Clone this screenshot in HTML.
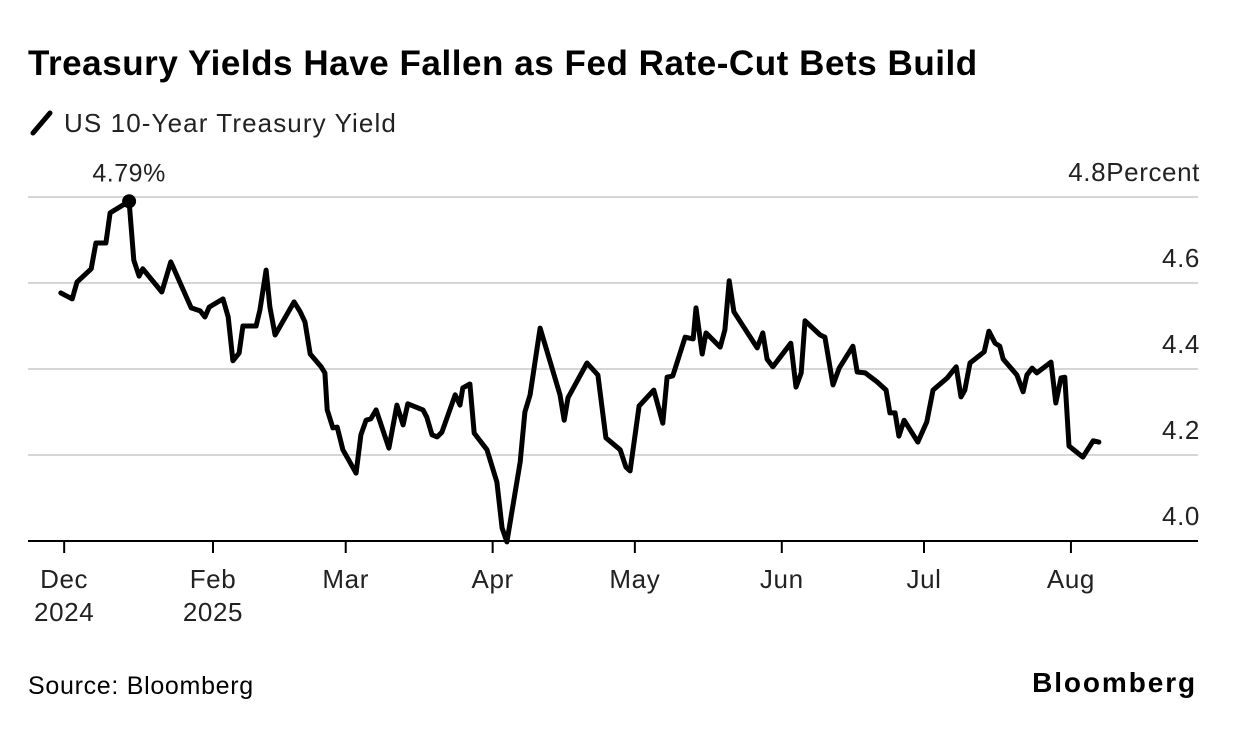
<!DOCTYPE html>
<html><head><meta charset="utf-8"><style>
body{margin:0;background:#fff;width:1236px;height:726px;overflow:hidden;font-family:"Liberation Sans",sans-serif;}
svg text{font-family:"Liberation Sans",sans-serif;}
</style></head><body>
<svg id="chart" width="1236" height="726">
<text x="28" y="75" font-size="35" font-weight="bold" fill="#000" letter-spacing="0.55">Treasury Yields Have Fallen as Fed Rate-Cut Bets Build</text>
<g>
<line x1="33" y1="133" x2="50" y2="113" stroke="#000" stroke-width="5" stroke-linecap="round"/>
<text x="64" y="132" font-size="26" fill="#222" letter-spacing="1.1">US 10-Year Treasury Yield</text>
</g>
<g id="grid"></g>
<g id="xaxis"></g>
<path id="line" fill="none" stroke="#000" stroke-width="5" stroke-linejoin="round" stroke-linecap="round"/>
<g id="ann"></g>
<text x="28" y="694" font-size="25" fill="#000" letter-spacing="0.7">Source: Bloomberg</text>
<text x="1197" y="692" font-size="28" font-weight="bold" text-anchor="end" fill="#000" letter-spacing="1.9">Bloomberg</text>
</svg>
<script>
const days=[-32.1,-29.7,-28.7,-25.7,-24.7,-22.6,-21.7,-17.7,-16.7,-15.6,-14.8,-10.8,-8.9,-4.6,-2.7,-1.7,-0.8,2.1,3.2,4.2,5.5,6.3,9.1,9.9,11.2,12.0,13.1,17.1,18.4,19.4,20.5,22.8,23.6,24.1,25.3,26.2,27.4,30.2,31.2,32.3,33.3,34.4,37.1,38.8,40.1,41.1,44.3,45.1,46.2,47.3,48.3,51.1,52.1,52.7,54.2,55.1,57.8,59.9,61.0,62.0,64.8,65.8,66.9,69.0,73.2,74.1,74.9,78.9,81.2,82.9,85.9,87.1,88.0,89.9,93.0,94.9,95.8,97.0,99.6,101.3,101.9,103.2,104.0,107.0,108.0,108.9,109.9,114.8,116.0,116.9,118.1,121.9,123.0,124.1,124.9,128.1,129.1,130.8,132.1,135.0,135.9,137.6,140.1,142.0,142.8,143.9,144.7,145.8,148.7,150.6,151.9,154.9,156.8,157.8,158.6,159.7,162.7,163.7,165.0,166.0,166.7,169.6,170.9,171.7,172.8,173.8,176.8,177.8,178.9,179.7,180.6,183.5,185.7,186.9];
const yields=[4.577,4.563,4.602,4.633,4.693,4.693,4.763,4.79,4.653,4.616,4.633,4.579,4.649,4.542,4.535,4.521,4.544,4.563,4.521,4.419,4.437,4.500,4.500,4.537,4.630,4.544,4.479,4.556,4.533,4.509,4.435,4.405,4.391,4.305,4.263,4.265,4.212,4.158,4.247,4.281,4.284,4.305,4.216,4.316,4.270,4.319,4.305,4.288,4.247,4.242,4.253,4.340,4.316,4.356,4.365,4.251,4.212,4.137,4.030,3.998,4.184,4.300,4.340,4.495,4.340,4.281,4.333,4.414,4.386,4.240,4.212,4.172,4.163,4.314,4.351,4.274,4.381,4.384,4.474,4.470,4.542,4.435,4.484,4.451,4.491,4.605,4.533,4.449,4.484,4.423,4.405,4.460,4.358,4.391,4.512,4.479,4.474,4.363,4.402,4.453,4.393,4.391,4.370,4.351,4.298,4.298,4.244,4.281,4.230,4.277,4.351,4.379,4.405,4.335,4.351,4.414,4.440,4.488,4.460,4.453,4.423,4.386,4.347,4.386,4.402,4.391,4.416,4.321,4.379,4.381,4.221,4.195,4.233,4.230];
const yTicks=[4.0,4.2,4.4,4.6,4.8];
const xTickDays=[-31.4,0,28,59,89,120,150,181];
const xTickLabels=[["Dec","2024"],["Feb","2025"],["Mar"],["Apr"],["May"],["Jun"],["Jul"],["Aug"]];
const peakLabel="4.79%";
const X=d=>213+d*4.74;
const Y=v=>197+(4.8-v)*430;
const NS="http://www.w3.org/2000/svg";
function mk(tag,attrs,parent,txt){const e=document.createElementNS(NS,tag);for(const k in attrs)e.setAttribute(k,attrs[k]);if(txt!=null)e.textContent=txt;parent.appendChild(e);return e;}
const grid=document.getElementById('grid');
yTicks.forEach(v=>{
  if(v>4.0){const l=mk('line',{x1:28,x2:1198,y1:Y(v),y2:Y(v),stroke:'#d6d6d6','stroke-width':2},grid);
  
  }
  const t=mk('text',{x:1200,y:Y(v)-16,'font-size':26,'letter-spacing':0.6,'text-anchor':'end',fill:'#222'},grid,v===4.8?'4.8Percent':v.toFixed(1));
  
  
});
const xa=document.getElementById('xaxis');
const ax=mk('line',{x1:28,x2:1198,y1:541,y2:541,stroke:'#000','stroke-width':2},xa);


xTickDays.forEach((d,i)=>{
  const tk=mk('line',{x1:X(d),x2:X(d),y1:541,y2:553,stroke:'#000','stroke-width':2},xa);
  
  
  xTickLabels[i].forEach((s,j)=>{
    const t=mk('text',{x:X(d),y:588+j*33,'font-size':26,'letter-spacing':0.6,'text-anchor':'middle',fill:'#222'},xa,s);
    
    
  });
});
document.getElementById('line').setAttribute('d',days.map((d,i)=>(i?'L':'M')+X(d).toFixed(1)+','+Y(yields[i]).toFixed(1)).join(''));
let mi=0;yields.forEach((v,i)=>{if(v>yields[mi])mi=i;});
const ann=document.getElementById('ann');
const dot=mk('circle',{cx:X(days[mi]),cy:Y(yields[mi]),r:7,fill:'#000'},ann);


const pl=mk('text',{x:X(days[mi]),y:Y(yields[mi])-20,'font-size':25,'letter-spacing':0.5,'text-anchor':'middle',fill:'#222'},ann,peakLabel);


</script>
</body></html>
